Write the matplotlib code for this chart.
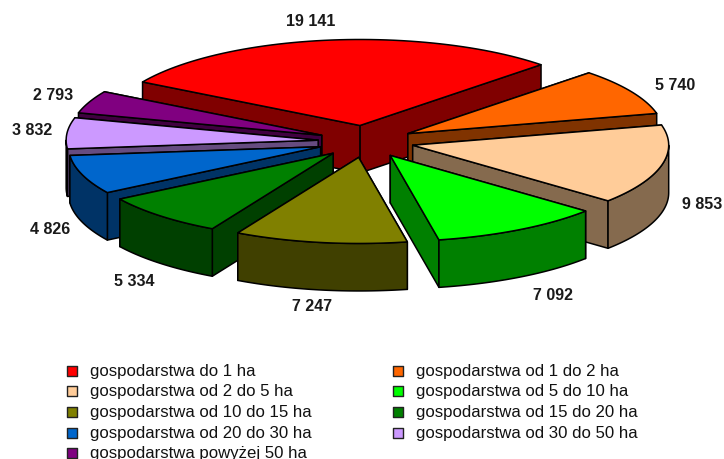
import numpy as np
import matplotlib
matplotlib.use("Agg")
import matplotlib.pyplot as plt

# === DATA ===
values = [19141, 5740, 9853, 7092, 7247, 5334, 4826, 3832, 2793]
value_labels = ["19 141", "5 740", "9 853", "7 092", "7 247", "5 334", "4 826", "3 832", "2 793"]
categories = [
    "gospodarstwa do 1 ha",
    "gospodarstwa od 1 do 2 ha",
    "gospodarstwa od 2 do 5 ha",
    "gospodarstwa od 5 do 10 ha",
    "gospodarstwa od 10 do 15 ha",
    "gospodarstwa od 15 do 20 ha",
    "gospodarstwa od 20 do 30 ha",
    "gospodarstwa od 30 do 50 ha",
    "gospodarstwa powyżej 50 ha",
]
top_colors = ["#FF0000", "#FF6600", "#FFCC99", "#00FF00", "#808000", "#008000", "#0066CC", "#CC99FF", "#800080"]
wall_colors = ["#800000", "#803300", "#856A4E", "#008000", "#404000", "#004000", "#003366", "#664C80", "#400040"]

# === LAYOUT (pixels) ===
CX, CY = 366, 142.5
R = 256
R_LEFT = 252  # left half of the pie is a bit narrower in the picture
SQUASH = 0.336
EXPLODE = 48
DEPTH = 47.5
START = 149.6
label_pos = [(311, 21), (675, 86), (702, 205), (553, 296), (312, 307),
             (134, 282), (50, 230), (32, 131), (53, 95)]
legend_rows = [372, 392, 413, 434, 454]
legend_cols = [72, 398]
draw_order = [0, 8, 1, 7, 2, 6, 5, 3, 4]

fig = plt.figure(figsize=(7.24, 4.6), dpi=100)
ax = fig.add_axes([0, 0, 1, 1])
ax.set_xlim(0, 724)
ax.set_ylim(460, 0)
ax.axis("off")

# angles go clockwise from the left edge of the red slice
spans = np.array(values) / sum(values) * 360
ends = START - np.cumsum(spans)
starts = ends + spans


def rim(ax0, ay0, a1, a2, n=60):
    t = np.radians(np.linspace(a1, a2, n))
    c = np.cos(t)
    return ax0 + np.where(c < 0, R_LEFT, R) * c, ay0 - R * SQUASH * np.sin(t)


for i in draw_order:
    mid = np.radians((starts[i] + ends[i]) / 2)
    ax0 = CX + EXPLODE * np.cos(mid)
    ay0 = CY - EXPLODE * SQUASH * np.sin(mid)
    x, y = rim(ax0, ay0, starts[i], ends[i])
    style = dict(edgecolor="black", linewidth=1.1, joinstyle="round")

    # radial walls, the one further back first
    walls = [(x[0], y[0]), (x[-1], y[-1])]
    walls.sort(key=lambda p: p[1])
    for px, py in walls:
        ax.fill([ax0, px, px, ax0], [ay0, py, py + DEPTH, ay0 + DEPTH],
                facecolor=wall_colors[i], **style)

    # outer wall, only the part that faces the viewer
    high = min(starts[i], 0)
    low = max(ends[i], -180)
    if high > low:
        wx, wy = rim(ax0, ay0, high, low)
        ax.fill(np.r_[wx, wx[::-1]], np.r_[wy, wy[::-1] + DEPTH],
                facecolor=wall_colors[i], **style)

    ax.fill(np.r_[ax0, x], np.r_[ay0, y], facecolor=top_colors[i], **style)

for (lx, ly), txt in zip(label_pos, value_labels):
    ax.text(lx, ly, txt, ha="center", va="center", family="Liberation Sans",
            fontweight="bold", fontsize=11.5, color="#1a1a1a")

# === LEGEND ===
for i, name in enumerate(categories):
    col = i % 2
    row = i // 2
    ax.scatter(legend_cols[col], legend_rows[row], s=58, marker="s", color=top_colors[i],
               edgecolor="#222222", linewidth=1.0, clip_on=False)
    ax.text(legend_cols[col] + 18, legend_rows[row], name, ha="left", va="center",
            family="Liberation Sans", fontsize=12.05, color="#111111")

fig.savefig("out.png", dpi=100, facecolor="white")
